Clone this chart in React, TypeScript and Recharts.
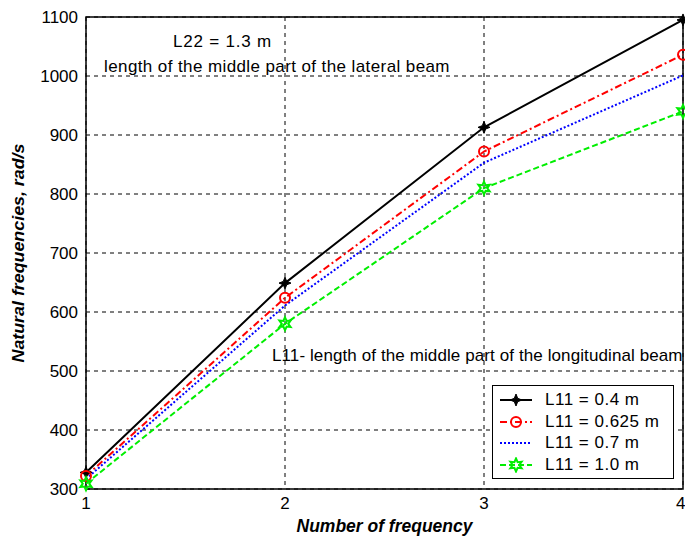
import React from "react";
import {
  LineChart,
  Line,
  XAxis,
  YAxis,
  CartesianGrid,
  ReferenceArea,
  Label,
} from "recharts";

// frequency number 1..4
const freqNumbers = [1, 2, 3, 4];
const l11_04 = [328, 649, 913, 1095];
const l11_0625 = [322, 624, 872, 1036];
const l11_07 = [317, 611, 853, 1001];
const l11_10 = [309, 580, 810, 940];
const yTicks = [300, 400, 500, 600, 700, 800, 900, 1000, 1100];

const data = freqNumbers.map((n, i) => ({
  n,
  a: l11_04[i],
  b: l11_0625[i],
  c: l11_07[i],
  d: l11_10[i],
}));

const FONT = '"Liberation Sans", Arial, sans-serif';

const starPath = (cx: number, cy: number, r: number, points: number, inner: number) => {
  let d = "";
  for (let k = 0; k < points * 2; k++) {
    const rr = k % 2 === 0 ? r : r * inner;
    const ang = (Math.PI * k) / points - Math.PI / 2;
    d += (k === 0 ? "M" : "L") + (cx + rr * Math.cos(ang)).toFixed(2) + "," + (cy + rr * Math.sin(ang)).toFixed(2);
  }
  return d + "Z";
};

const BlackStar = (p: any) => {
  const { cx, cy } = p;
  if (cx == null || cy == null) return <g />;
  return <path d={starPath(cx, cy, 6, 4, 0.4)} fill="#000" stroke="#000" strokeWidth={1} />;
};

const RedCircle = (p: any) => {
  const { cx, cy } = p;
  if (cx == null || cy == null) return <g />;
  return <circle cx={cx} cy={cy} r={5} fill="none" stroke="#ff0000" strokeWidth={2} />;
};

const GreenHex = (p: any) => {
  const { cx, cy } = p;
  if (cx == null || cy == null) return <g />;
  return <path d={starPath(cx, cy, 6.5, 6, 0.5)} fill="none" stroke="#00ee00" strokeWidth={2} />;
};

const legendItems = [
  { label: "L11 = 0.4 m", color: "#000", dash: undefined, marker: "star" },
  { label: "L11 = 0.625 m", color: "#ff0000", dash: "7 3 2 3", marker: "circle" },
  { label: "L11 = 0.7 m", color: "#0000ff", dash: "2 2", marker: "none" },
  { label: "L11 = 1.0 m", color: "#00ee00", dash: "6 3", marker: "hex" },
];

const LegendBox = () => (
  <div
    style={{
      position: "absolute",
      left: 492,
      top: 385,
      border: "1px solid #000",
      background: "#fff",
      width: 182,
      height: 94,
      boxSizing: "border-box",
      padding: "3px 0 0 7px",
      fontFamily: FONT,
      fontSize: 17,
      letterSpacing: 0.5,
    }}
  >
    {legendItems.map((it) => (
      <div key={it.label} style={{ display: "flex", alignItems: "center", height: 21.7 }}>
        <svg width={34} height={16} style={{ marginRight: 11 }}>
          <line x1={0} y1={8} x2={32} y2={8} stroke={it.color} strokeWidth={2} strokeDasharray={it.dash} />
          {it.marker === "star" && <BlackStar cx={16} cy={8} />}
          {it.marker === "circle" && <RedCircle cx={16} cy={8} />}
          {it.marker === "hex" && <GreenHex cx={16} cy={8} />}
        </svg>
        <span>{it.label}</span>
      </div>
    ))}
  </div>
);

const YTitle = (props: any) => {
  const vb = props.viewBox || {};
  const cy = (vb.y || 0) + (vb.height || 0) / 2;
  const x = 24;
  return (
    <text
      x={x}
      y={cy}
      transform={`rotate(-90 ${x} ${cy})`}
      textAnchor="middle"
      fontFamily={FONT}
      fontSize={17}
      fontWeight="bold"
      fontStyle="italic"
      fill="#000"
      textLength={219}
      lengthAdjust="spacingAndGlyphs"
    >
      Natural frequencies, rad/s
    </text>
  );
};

export default function App() {
  return (
    <div style={{ position: "absolute", left: 0, top: 0, width: 685, height: 542, background: "#fff" }}>
      <LineChart
        width={685}
        height={542}
        data={data}
        margin={{ top: 17, right: 2, bottom: 0, left: 0 }}
      >
        <CartesianGrid stroke="#000" strokeDasharray="4 4" strokeWidth={1} />
        <XAxis
          dataKey="n"
          type="number"
          domain={[1, 4]}
          ticks={freqNumbers}
          height={53}
          tickLine={false}
          tickSize={4}
          tickMargin={4}
          axisLine={false}
          tick={{ fill: "#000", fontSize: 17, fontFamily: FONT }}
          label={{
            value: "Number of frequency",
            position: "insideBottom",
            offset: 10,
            style: { fontFamily: FONT, fontSize: 17.5, fontWeight: "bold", fontStyle: "italic", fill: "#000" },
          }}
        />
        <YAxis
          type="number"
          domain={[300, 1100]}
          ticks={yTicks}
          width={86}
          tickLine={false}
          tickSize={0}
          tickMargin={8}
          axisLine={false}
          tick={{ fill: "#000", fontSize: 17, fontFamily: FONT }}
        >
          <Label content={<YTitle />} />
        </YAxis>
        <ReferenceArea x1={1} x2={4} y1={300} y2={1100} fill="none" stroke="#000" strokeWidth={1.5} ifOverflow="extendDomain" />
        <Line dataKey="a" stroke="#000" strokeWidth={2} dot={<BlackStar />} isAnimationActive={false} />
        <Line dataKey="b" stroke="#ff0000" strokeWidth={2} strokeDasharray="7 3 2 3" dot={<RedCircle />} isAnimationActive={false} />
        <Line dataKey="c" stroke="#0000ff" strokeWidth={2} strokeDasharray="2 2" dot={false} isAnimationActive={false} />
        <Line dataKey="d" stroke="#00ee00" strokeWidth={2} strokeDasharray="6 3" dot={<GreenHex />} isAnimationActive={false} />
      </LineChart>
      <LegendBox />
      <div style={{ position: "absolute", left: 173, top: 32, fontFamily: FONT, fontSize: 17, letterSpacing: 0.8, whiteSpace: "nowrap" }}>
        L22 = 1.3 m
      </div>
      <div style={{ position: "absolute", left: 104, top: 57, fontFamily: FONT, fontSize: 17, letterSpacing: 0.4, whiteSpace: "nowrap" }}>
        length of the middle part of the lateral beam
      </div>
      <div style={{ position: "absolute", left: 272, top: 346, fontFamily: FONT, fontSize: 17, letterSpacing: 0.1, whiteSpace: "nowrap" }}>
        L11- length of the middle part of the longitudinal beam
      </div>
    </div>
  );
}
